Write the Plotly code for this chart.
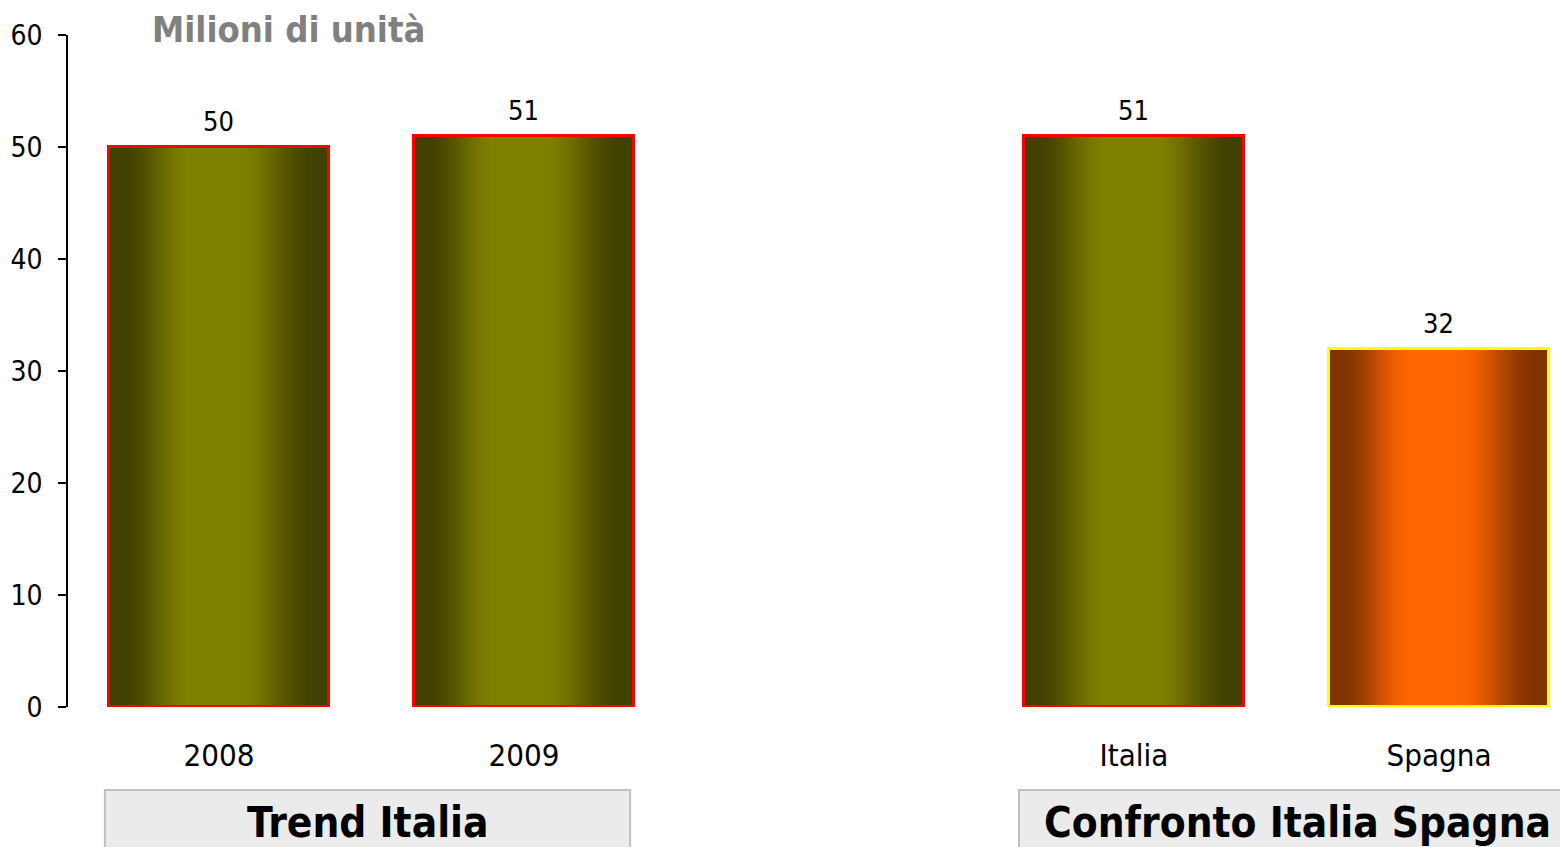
import plotly.graph_objects as go

# ---- data ----
categories = ["2008", "2009", " ", "Italia", "Spagna"]
values = [50, 51, None, 51, 32]
y_ticks = [0, 10, 20, 30, 40, 50, 60]
group_labels = ["Trend Italia", "Confronto Italia Spagna"]
unit_label = "Milioni di unità"

# ---- styles ----
FONT = "DejaVu Sans Condensed, DejaVu Sans, sans-serif"
bar_style = ["olive", "olive", "olive", "olive", "orange"]
palettes = {
    "olive": ((0x40, 0x40, 0x00), (0x80, 0x80, 0x00), "#ff0000"),
    "orange": ((0x80, 0x33, 0x00), (0xff, 0x66, 0x00), "#ffff00"),
}
BAR_W = 0.72
N_SLICES = 72


def intensity(t):
    # dark edges, bright plateau slightly left of centre
    if t < 0.05:
        return 0.0
    if t < 0.38:
        s = (t - 0.05) / 0.33
        return s * s * (3 - 2 * s)
    if t < 0.58:
        return 1.0
    if t < 0.95:
        s = 1 - (t - 0.58) / 0.37
        return s * s * (3 - 2 * s)
    return 0.0


def mix(dark, bright, f):
    r, g, b = (round(d + (bb - d) * f) for d, bb in zip(dark, bright))
    return f"rgb({r},{g},{b})"


fig = go.Figure()

dw = BAR_W / N_SLICES
for i in range(N_SLICES):
    t = (i + 0.5) / N_SLICES
    f = intensity(t)
    cols = [mix(palettes[s][0], palettes[s][1], f) for s in bar_style]
    fig.add_trace(go.Bar(
        x=categories, y=values,
        offset=-BAR_W / 2 + i * dw, width=dw * 1.15,
        marker=dict(color=cols, line=dict(width=0)),
        hoverinfo="skip", showlegend=False,
    ))

# outline
fig.add_trace(go.Bar(
    x=categories, y=values,
    offset=-BAR_W / 2, width=BAR_W,
    marker=dict(color="rgba(0,0,0,0)",
                line=dict(color=[palettes[s][2] for s in bar_style], width=3)),
    hoverinfo="skip", showlegend=False,
))

# value labels (x given as category index)
for idx, v in enumerate(values):
    if v is None:
        continue
    fig.add_annotation(x=idx, y=v, xref="x", yref="y", text=str(v), showarrow=False,
                       yanchor="bottom", yshift=8,
                       font=dict(family=FONT, size=27, color="black"))

# group label boxes
box_specs = [(-0.374, 1.348), (2.623, 4.55)]
label_x = [(-0.374 + 1.348) / 2, 3.535]
for (x0, x1), lx, lab in zip(box_specs, label_x, group_labels):
    fig.add_shape(type="rect", xref="x", yref="paper",
                  x0=x0, x1=x1, y0=-0.1235, y1=-0.30,
                  fillcolor="#ebebeb", line=dict(color="#c0c0c0", width=2),
                  layer="below")
    fig.add_annotation(xref="x", yref="paper", x=lx,
                       y=-0.1726, text=f"<b>{lab}</b>", showarrow=False,
                       font=dict(family=FONT, size=42, color="black"),
                       xanchor="center", yanchor="middle")

fig.add_annotation(xref="paper", yref="paper", x=(150 - 68) / 1500, y=(707 - 29) / 672,
                   text=f"<b>{unit_label}</b>", showarrow=False,
                   font=dict(family=FONT, size=36, color="#808080"),
                   xanchor="left", yanchor="middle")

fig.update_layout(
    width=1560, height=839,
    margin=dict(l=60, r=0, t=27, b=140),
    paper_bgcolor="white", plot_bgcolor="white",
    barmode="overlay", bargap=0,
    font=dict(family=FONT, color="black"),
    showlegend=False,
)
fig.update_xaxes(
    type="category", categoryorder="array", categoryarray=categories,
    range=[-0.495, 4.423], showline=False, showgrid=False, zeroline=False,
    ticks="", ticklabelstandoff=27, tickfont=dict(family=FONT, size=31),
)
fig.update_yaxes(
    range=[0, 60], tickvals=y_ticks, showline=True, linecolor="black", linewidth=1.5,
    ticks="outside", ticklen=8, tickcolor="black", tickwidth=1.5,
    showgrid=False, zeroline=False, ticklabelstandoff=10,
    tickfont=dict(family=FONT, size=28),
)

fig.write_html("out.html")
